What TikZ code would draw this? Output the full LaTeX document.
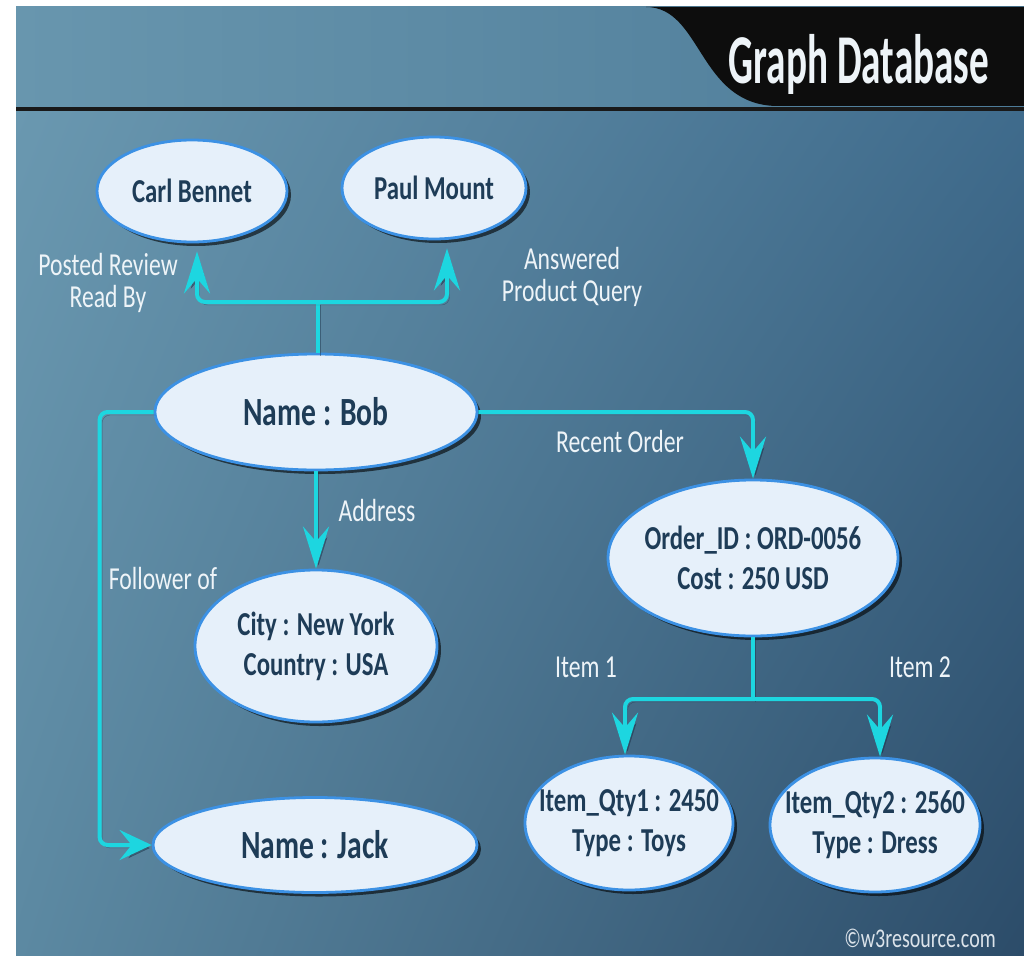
\documentclass[tikz,border=0pt]{standalone}
\usepackage{fontspec}
\setmainfont{Carlito}[FakeStretch=0.74]
\newfontfamily\titlefont{Carlito}[FakeStretch=0.56]
\usetikzlibrary{shapes.geometric,shadows,shadings,arrows.meta}

\definecolor{bandL}{HTML}{6896AE}
\definecolor{bandR}{HTML}{4D7B98}
\definecolor{bgUL}{HTML}{6A98B0}
\definecolor{bgUR}{HTML}{3F6B8C}
\definecolor{bgLL}{HTML}{5C89A2}
\definecolor{bgLR}{HTML}{2C4C69}
\definecolor{entfill}{HTML}{E6F0FA}
\definecolor{entline}{HTML}{3C91E4}
\definecolor{enttext}{HTML}{1E3C57}
\definecolor{wire}{HTML}{1DD6E0}
\definecolor{wireshade}{HTML}{1A3046}
\definecolor{lbl}{HTML}{EEF4F8}

\tikzset{
  ent/.style={ellipse, draw=entline, line width=2.8pt, fill=entfill, inner sep=0pt,
    drop shadow={shadow xshift=4pt, shadow yshift=-4pt, opacity=0.6, fill=black}},
  enttxt/.style={text=enttext, align=center, font=\bfseries\fontsize{33.5}{40}\selectfont},
  bigtxt/.style={text=enttext, align=center, font=\bfseries\fontsize{40}{40}\selectfont},
  conn/.style={draw=wire, line width=4pt, rounded corners=8pt,
    preaction={draw=wireshade, opacity=0.45, transform canvas={shift={(2.5pt,-3pt)}}}},
  vtip/.style={-{Stealth[length=42pt, width=26pt, inset=15pt]}},
  htip/.style={-{Stealth[length=32pt, width=30pt, inset=12pt]}},
  rel/.style={text=lbl, align=center, font=\fontsize{32}{32}\selectfont},
}

\begin{document}
\begin{tikzpicture}[x=1pt, y=-1pt]
\useasboundingbox (0,0) rectangle (1024,955);
\fill[white] (0,0) rectangle (1024,955);

% backdrop
\shade[upper left=bgUL, upper right=bgUR, lower left=bgLL, lower right=bgLR]
  (16,111) rectangle (1024,955);
\shade[left color=bandL, right color=bandR] (16,7) rectangle (1024,108);
\fill[black!95] (646,7) .. controls (702,7) and (698,104) .. (776,106)
  -- (1024,106) -- (1024,7) -- cycle;
\fill[black!90] (16,107) rectangle (1024,111);

\node[text=lbl, anchor=base, font=\titlefont\bfseries\fontsize{70}{70}\selectfont]
  (title) at (859,84) {Graph Database};

% entities
\node[ent, minimum width=190pt, minimum height=102pt,
  label={[name=carltxt, enttxt]center:Carl Bennet}] (carl) at (192,191) {};
\node[ent, minimum width=184pt, minimum height=102pt,
  label={[name=paultxt, enttxt]center:Paul Mount}] (paul) at (434,188) {};
\node[ent, minimum width=322pt, minimum height=116pt,
  label={[name=bobtxt, bigtxt]center:Name : Bob}] (bob) at (316,412) {};
\node[ent, minimum width=242pt, minimum height=152pt,
  label={[name=citytxt, enttxt]center:{City : New York\\Country : USA}}] (city) at (316,646) {};
\node[ent, minimum width=324pt, minimum height=95pt,
  label={[name=jacktxt, bigtxt]center:Name : Jack}] (jack) at (315,845) {};
\node[ent, minimum width=290pt, minimum height=156pt,
  label={[name=ordertxt, enttxt]center:{Order\_ID : ORD-0056\\Cost : 250 USD}}] (order) at (753,558) {};
\node[ent, minimum width=208pt, minimum height=134pt,
  label={[name=item1txt, enttxt]center:{Item\_Qty1 : 2450\\Type : Toys}}] (item1) at (629,823) {};
\node[ent, minimum width=210pt, minimum height=134pt,
  label={[name=item2txt, enttxt]center:{Item\_Qty2 : 2560\\Type : Dress}}] (item2) at (875,825) {};

% relationships
\coordinate (topfork) at (318,302);
\coordinate (itemfork) at (753,699);

\draw[conn] (bob.north -| topfork) -- (topfork);
\draw[conn, vtip, shorten >=8pt] (topfork) -| ([xshift=5pt]carl.south);
\draw[conn, vtip, shorten >=8pt] (topfork) -| ([xshift=13pt]paul.south);
\draw[conn, vtip] (bob.south) -- (bob.south |- city.north);
\draw[conn, vtip] (bob.east) -| (order.north);
\draw[conn, htip] (bob.west) -- ++(-54,0) |- (jack.west);
\draw[conn] (order.south) -- (itemfork);
\draw[conn, vtip] (itemfork) -| ([xshift=-4pt]item1.north);
\draw[conn, vtip] (itemfork) -| ([xshift=5pt]item2.north);

% relationship labels
\node[rel] (lposted) at (108,283) {Posted Review\\Read By};
\node[rel] (lanswer) at (572,277) {Answered\\Product Query};
\node[rel] (laddress) at (377,511) {Address};
\node[rel] (lfollow) at (163,578) {Follower of};
\node[rel] (lrecent) at (620,442) {Recent Order};
\node[rel] (litem1) at (586,667) {Item 1};
\node[rel] (litem2) at (920,667) {Item 2};

\node[text=lbl!90!bgLR, font=\fontsize{27}{27}\selectfont] (copy) at (920,938) {©w3resource.com};
\end{tikzpicture}
\end{document}
